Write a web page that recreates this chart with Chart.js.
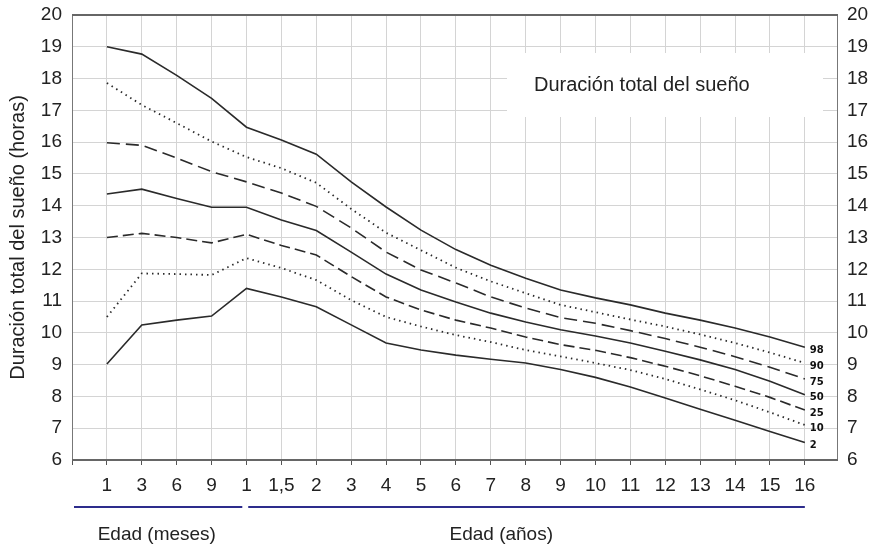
<!DOCTYPE html>
<html>
<head>
<meta charset="utf-8">
<script src="https://cdn.jsdelivr.net/npm/chart.js@4.4.1/dist/chart.umd.min.js"></script>
<style>
  html, body { margin: 0; padding: 0; background: #fff; }
  #wrap { width: 870px; height: 547px; }
</style>
</head>
<body>
<div id="wrap"><canvas id="grafico"></canvas></div>
<script>
// edades: 4 en meses, luego en años
const edades = ['1', '3', '6', '9', '1', '1,5', '2', '3', '4', '5', '6', '7', '8', '9', '10', '11', '12', '13', '14', '15', '16'];

// percentiles de duración total del sueño (horas)
const p98 = [19.0, 18.77, 18.1, 17.38, 16.47, 16.07, 15.62, 14.75, 13.96, 13.23, 12.62, 12.13, 11.72, 11.35, 11.1, 10.88, 10.62, 10.4, 10.15, 9.87, 9.55];
const p90 = [17.86, 17.17, 16.6, 16.02, 15.53, 15.18, 14.72, 13.9, 13.15, 12.6, 12.05, 11.62, 11.25, 10.88, 10.65, 10.42, 10.2, 9.95, 9.68, 9.38, 9.05];
const p75 = [15.98, 15.9, 15.5, 15.07, 14.75, 14.4, 13.98, 13.3, 12.54, 11.98, 11.57, 11.13, 10.78, 10.48, 10.3, 10.07, 9.82, 9.55, 9.25, 8.92, 8.55];
const p50 = [14.37, 14.52, 14.23, 13.95, 13.95, 13.55, 13.22, 12.54, 11.85, 11.35, 10.97, 10.62, 10.34, 10.1, 9.9, 9.68, 9.42, 9.15, 8.85, 8.48, 8.05];
const p25 = [13.0, 13.13, 13.0, 12.83, 13.1, 12.75, 12.45, 11.77, 11.13, 10.72, 10.4, 10.15, 9.87, 9.63, 9.45, 9.22, 8.95, 8.65, 8.32, 7.97, 7.57];
const p10 = [10.5, 11.87, 11.85, 11.82, 12.35, 12.04, 11.66, 11.03, 10.5, 10.2, 9.93, 9.71, 9.46, 9.26, 9.05, 8.83, 8.55, 8.22, 7.88, 7.5, 7.1];
const p2 = [9.02, 10.25, 10.4, 10.53, 11.4, 11.13, 10.82, 10.25, 9.68, 9.46, 9.3, 9.17, 9.05, 8.85, 8.6, 8.3, 7.95, 7.6, 7.25, 6.9, 6.55];

const percentiles = ['98', '90', '75', '50', '25', '10', '2'];
const series = [p98, p90, p75, p50, p25, p10, p2];
const estilos = [[], [1.5, 4], [13, 6], [], [11, 5], [1.5, 4], []];

const FUENTE = '"Liberation Sans", Arial, sans-serif';
const GRIS = '#d4d4d4';

function puntos(valores) {
  return valores.map((v, i) => ({ x: i, y: v }));
}

const extras = {
  id: 'extras',
  beforeDatasetsDraw(chart) {
    const { ctx, chartArea: a } = chart;
    ctx.save();
    // caja blanca del título dentro del gráfico
    ctx.fillStyle = '#fff';
    ctx.fillRect(a.left + 435, a.top + 38, 316, 64);
    ctx.fillStyle = '#222';
    ctx.font = '20px ' + FUENTE;
    ctx.textBaseline = 'alphabetic';
    ctx.fillText('Duración total del sueño', a.left + 462, a.top + 76);
    // marco
    ctx.strokeStyle = '#777';
    ctx.lineWidth = 1;
    ctx.strokeRect(a.left + 0.5, a.top + 0.5, a.right - a.left - 1, a.bottom - a.top - 1);
    ctx.strokeStyle = '#666';
    ctx.lineWidth = 2;
    ctx.beginPath();
    ctx.moveTo(a.left, a.top); ctx.lineTo(a.right, a.top);
    ctx.moveTo(a.left, a.bottom); ctx.lineTo(a.right, a.bottom);
    ctx.stroke();
    ctx.restore();
  },
  afterDatasetsDraw(chart) {
    const { ctx } = chart;
    const xs = chart.scales.x, ys = chart.scales.y;
    ctx.save();
    ctx.fillStyle = '#111';
    ctx.font = 'bold 10px "DejaVu Sans", sans-serif';
    ctx.textBaseline = 'middle';
    series.forEach((s, i) => {
      const ult = s.length - 1;
      ctx.fillText(percentiles[i], xs.getPixelForValue(ult) + 5, ys.getPixelForValue(s[ult]) + 3);
    });
    ctx.restore();
  },
  afterDraw(chart) {
    const { ctx, chartArea: a } = chart;
    const xs = chart.scales.x;
    ctx.save();
    ctx.strokeStyle = '#2d2c8c';
    ctx.lineWidth = 2;
    ctx.beginPath();
    ctx.moveTo(a.left + 2, 507); ctx.lineTo(xs.getPixelForValue(3.88), 507);
    ctx.moveTo(xs.getPixelForValue(4.05), 507); ctx.lineTo(xs.getPixelForValue(20), 507);
    ctx.stroke();
    ctx.fillStyle = '#222';
    ctx.font = '19px ' + FUENTE;
    ctx.textAlign = 'center';
    ctx.textBaseline = 'alphabetic';
    ctx.fillText('Edad (meses)', xs.getPixelForValue(1.43), 540);
    ctx.fillText('Edad (años)', xs.getPixelForValue(11.3), 540);
    ctx.restore();
  }
};

new Chart(document.getElementById('grafico'), {
  type: 'line',
  data: {
    datasets: series.map((s, i) => ({
      label: percentiles[i],
      data: puntos(s),
      borderColor: '#2a2a2a',
      borderWidth: estilos[i].length && estilos[i][0] < 2 ? 1.8 : 1.6,
      borderDash: estilos[i],
      pointRadius: 0,
      tension: 0,
      fill: false
    }))
  },
  options: {
    responsive: true,
    maintainAspectRatio: false,
    animation: false,
    devicePixelRatio: 1,
    layout: { padding: { top: 15, left: 0, right: 0, bottom: 0 } },
    plugins: { legend: { display: false }, tooltip: { enabled: false } },
    scales: {
      x: {
        type: 'linear',
        min: -1,
        max: 20.95,
        afterFit(s) { s.height = 87; },
        afterBuildTicks(s) { s.ticks = [-1].concat(edades.map((_, i) => i)).map(v => ({ value: v })); },
        grid: { color: GRIS, tickLength: 5, tickColor: '#555', drawTicks: true },
        border: { display: false },
        ticks: {
          autoSkip: false,
          maxRotation: 0,
          padding: 9,
          color: '#222',
          font: { family: FUENTE, size: 19 },
          callback: v => edades[v] !== undefined ? edades[v] : ''
        }
      },
      y: {
        position: 'left',
        min: 6,
        max: 20,
        afterFit(s) { s.width = 72; s.paddingTop = 0; s.paddingBottom = 0; },
        grid: { color: GRIS, drawTicks: false },
        border: { display: false },
        ticks: { stepSize: 1, padding: 10, color: '#222', font: { family: FUENTE, size: 19 } },
        title: {
          display: true,
          text: 'Duración total del sueño (horas)',
          color: '#222',
          font: { family: FUENTE, size: 20 },
          padding: { top: 6, bottom: 0 }
        }
      },
      y2: {
        position: 'right',
        min: 6,
        max: 20,
        afterFit(s) { s.width = 32; s.paddingTop = 0; s.paddingBottom = 0; },
        grid: { display: false, drawTicks: false },
        border: { display: false },
        ticks: { stepSize: 1, padding: 9, color: '#222', font: { family: FUENTE, size: 19 } }
      }
    }
  },
  plugins: [extras]
});
</script>
</body>
</html>
